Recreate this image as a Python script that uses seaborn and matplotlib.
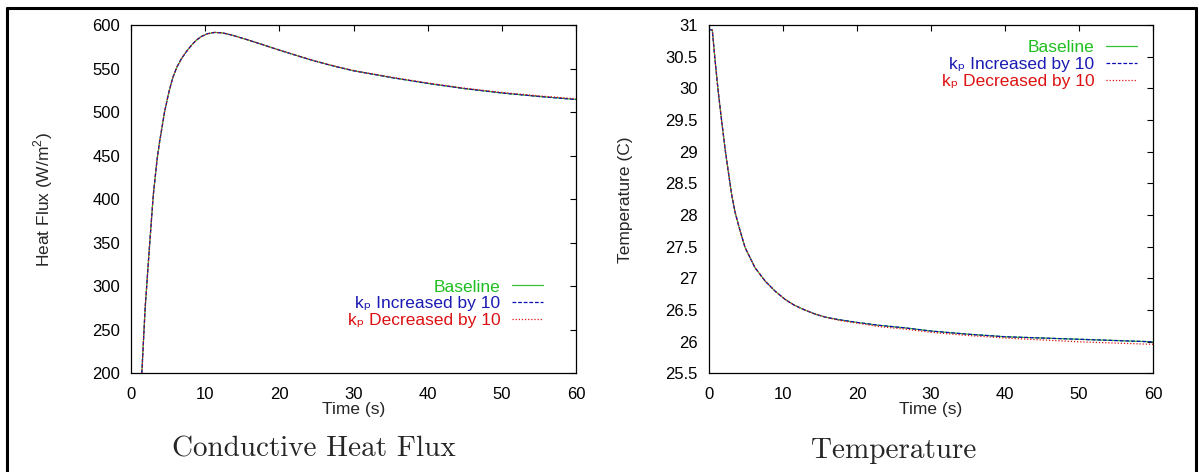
import matplotlib
matplotlib.use('Agg')
import matplotlib.pyplot as plt
from matplotlib.lines import Line2D
import seaborn as sns

# heat flux readings (W/m^2)
t_flux = [1.45, 1.9, 2.47, 3.0, 3.5, 3.83, 4.51, 5.1, 5.64, 6.2, 6.77, 7.4, 8.12, 8.8, 9.47, 10.3, 11.27,
          12.3, 13.53, 15.79, 18.0, 20.0, 22.5, 24.8, 27.5, 30.0, 35.2, 40.0, 45.0, 50.0, 55.0, 60.0]
flux_base = [200, 275, 344, 405, 445, 465, 500, 523, 540, 552, 561, 568.8, 576.6, 582.5, 586.8, 590, 591.5,
             591.0, 588.6, 582.8, 576.8, 571.2, 564.5, 558.6, 552.5, 547.5, 539.6, 533.0, 527.0, 522.0, 518.0, 514.6]
flux_inc = [200, 275, 344, 405, 445, 465, 500, 523, 540, 552, 561, 568.8, 576.6, 582.5, 586.8, 590, 591.5,
            591.0, 588.6, 582.8, 576.8, 571.2, 564.5, 558.6, 552.5, 547.5, 539.6, 533.0, 527.0, 522.0, 518.0, 514.5]
flux_dec = [200, 275, 344, 405, 445, 465, 500, 523, 540, 552, 561, 568.8, 576.6, 582.5, 586.8, 590, 591.5,
            591.0, 588.6, 582.8, 576.8, 571.2, 564.6, 558.8, 552.8, 547.8, 540.0, 533.5, 527.5, 522.6, 518.7, 515.3]

# temperature readings (C)
t_temp = [0.0, 0.45, 0.81, 1.26, 1.71, 2.17, 2.62, 3.07, 3.5, 3.97, 4.87, 6.22, 7.58, 8.93, 10.28, 11.5, 12.99,
          14.3, 15.7, 17.5, 19.76, 23.0, 26.5, 30.0, 35.0, 40.0, 45.0, 50.0, 55.0, 60.0]
temp_base = [30.93, 30.92, 30.46, 29.94, 29.49, 29.05, 28.68, 28.32, 28.06, 27.85, 27.49, 27.17, 26.96, 26.80, 26.67,
             26.58, 26.50, 26.44, 26.39, 26.35, 26.31, 26.26, 26.22, 26.17, 26.12, 26.08, 26.06, 26.04, 26.02, 26.0]
temp_inc = [30.93, 30.92, 30.46, 29.94, 29.49, 29.05, 28.68, 28.32, 28.06, 27.85, 27.49, 27.17, 26.96, 26.80, 26.67,
            26.58, 26.50, 26.44, 26.39, 26.35, 26.31, 26.26, 26.22, 26.17, 26.12, 26.08, 26.06, 26.04, 26.02, 26.0]
temp_dec = [30.93, 30.92, 30.46, 29.94, 29.49, 29.05, 28.68, 28.32, 28.06, 27.85, 27.49, 27.17, 26.96, 26.80, 26.67,
            26.58, 26.50, 26.44, 26.39, 26.34, 26.30, 26.24, 26.20, 26.15, 26.10, 26.06, 26.03, 26.0, 25.98, 25.96]

labels = ['Baseline', 'k\u209a Increased by 10', 'k\u209a Decreased by 10']
line_colors = ['#33c033', '#0a0ab4', '#e01414']
text_colors = ['#1fbf1f', '#1a1ab4', '#dd1111']
styles = ['-', (0, (3, 1.5)), (0, (1, 1.5))]

sns.set_style('white')
plt.rcParams['font.family'] = ['Liberation Sans', 'DejaVu Sans']
plt.rcParams['mathtext.fontset'] = 'custom'
plt.rcParams['mathtext.rm'] = 'Liberation Sans'

fig = plt.figure(figsize=(11.99, 4.72), dpi=100)
ax1 = fig.add_axes([0.1093, 0.2087, 0.3711, 0.7383])
ax2 = fig.add_axes([0.5913, 0.2087, 0.3703, 0.7383])


def draw(ax, t, series, ylim, yticks, ylabel, legend_anchor):
    for vals, lab, c, ls in zip(series, labels, line_colors, styles):
        sns.lineplot(x=t, y=vals, ax=ax, color=c, linestyle=ls, linewidth=0.9, label=lab)
    ax.set_xlim(0, 60)
    ax.set_ylim(*ylim)
    ax.set_xticks(range(0, 61, 10))
    ax.set_yticks(yticks)
    ax.tick_params(direction='in', length=4, width=0.8, top=True, right=True,
                   labelsize=12, colors='black', pad=8)
    ax.tick_params(axis='x', pad=10)
    for s in ax.spines.values():
        s.set_color('black')
        s.set_linewidth(0.9)
    ax.set_xlabel('Time (s)', fontsize=12.5, labelpad=0)
    ax.set_ylabel(ylabel, fontsize=12.5)
    ax.yaxis.set_label_coords(-0.17, 0.5)
    leg = ax.legend(loc='upper right', bbox_to_anchor=legend_anchor, frameon=False,
                    markerfirst=False, fontsize=12.5, handlelength=1.79, handletextpad=0.67,
                    labelspacing=0.1, borderaxespad=0, borderpad=0)
    for txt, c in zip(leg.get_texts(), text_colors):
        txt.set_color(c)


draw(ax1, t_flux, [flux_base, flux_inc, flux_dec], (200, 600), range(200, 601, 50),
     r'Heat Flux (W/m$^2$)', (0.926, 0.27))
ax1.set_yticklabels([str(v) for v in range(200, 601, 50)])
temp_ticks = [25.5 + 0.5 * i for i in range(12)]
draw(ax2, t_temp, [temp_base, temp_inc, temp_dec], (25.5, 31), temp_ticks,
     'Temperature (C)', (0.964, 0.958))
ax2.set_yticklabels(['%g' % v for v in temp_ticks])

fig.text(0.262, 0.049, 'Conductive Heat Flux', family='cmr10', fontsize=21, ha='center', va='center')
fig.text(0.745, 0.045, 'Temperature', family='cmr10', fontsize=21, ha='center', va='center')

# page border like the original figure frame
fig.add_artist(Line2D([0.0058, 0.0058], [0, 0.984], color='black', lw=2.2, transform=fig.transFigure))
fig.add_artist(Line2D([0.0058, 0.9975], [0.984, 0.984], color='black', lw=2.2, transform=fig.transFigure))
fig.add_artist(Line2D([0.9975, 0.9975], [0, 0.984], color='black', lw=2.2, transform=fig.transFigure))

fig.savefig('out.png', dpi=100)
